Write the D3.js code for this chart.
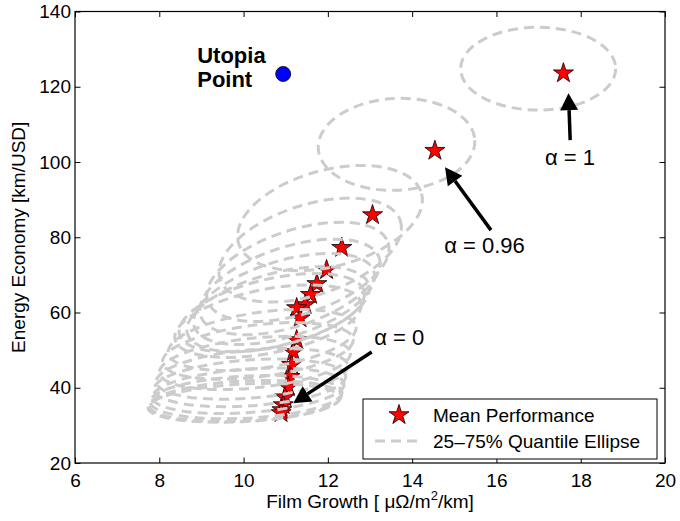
<!DOCTYPE html>
<html>
<head>
<meta charset="utf-8">
<script src="https://cdn.jsdelivr.net/npm/d3@7"></script>
<style>
body { margin: 0; background: #fff; }
text { font-family: "Liberation Sans", Arial, Helvetica, sans-serif; fill: #000; }
</style>
</head>
<body>
<script>
// axis ticks
var xTicks = [6, 8, 10, 12, 14, 16, 18, 20];
var yTicks = [20, 40, 60, 80, 100, 120, 140];

// mean performance (stars), alpha = 1 first, down to alpha = 0
var meanX = [17.59, 14.54, 13.06, 12.33, 11.97, 11.74, 11.59, 11.46, 11.26, 11.34, 11.26, 11.18, 11.14, 11.10, 11.06, 10.98, 10.94, 10.91, 10.89];
var meanY = [123.6, 103.0, 85.9, 77.2, 71.3, 67.6, 64.7, 62.0, 61.2, 58.5, 52.7, 49.5, 46.1, 42.9, 40.2, 37.5, 35.4, 34.1, 33.3];

// 25-75% quantile ellipses (centre, half widths, tilt in degrees)
var ellCx = [16.99, 13.63, 12.05, 11.58, 11.29, 11.10, 10.96, 10.82, 10.67, 10.58, 10.44, 10.34, 10.27, 10.20, 10.15, 10.11, 10.06, 10.04, 10.01];
var ellCy = [124.8, 104.7, 85.1, 76.6, 70.8, 66.8, 63.6, 60.9, 59.9, 57.7, 52.7, 49.8, 46.6, 43.7, 41.3, 39.2, 37.5, 36.5, 36.0];
var ellRx = [1.84, 1.86, 2.25, 2.25, 2.25, 2.23, 2.23, 2.23, 2.25, 2.25, 2.25, 2.28, 2.28, 2.28, 2.28, 2.28, 2.28, 2.28, 2.28];
var ellRy = [11.0, 12.2, 12.8, 12.0, 11.2, 10.6, 10.1, 9.6, 9.0, 8.5, 7.4, 6.9, 6.6, 6.4, 6.1, 5.8, 5.6, 5.3, 5.0];
var ellTilt = [0, 3, 15, 18, 18, 18, 17, 15, 13, 11, 8, 7, 6, 5, 4, 4, 3, 3, 3];

var utopia = [10.94, 123.4];

// alpha labels and arrows: text position, arrow tail, arrow tip
var annLabels = ["\u03b1 = 1", "\u03b1 = 0.96", "\u03b1 = 0"];
var annText = [[17.15, 99.2], [14.76, 75.8], [13.1, 51.4]];
var annTail = [[17.75, 105.8], [15.87, 81.9], [13.04, 49.5]];
var annTip = [[17.71, 118.3], [14.78, 98.6], [11.18, 35.9]];

var W = 680, H = 521;
var margin = {left: 75, top: 11.5, right: 15, bottom: 58};
var iw = W - margin.left - margin.right, ih = H - margin.top - margin.bottom;

var svg = d3.select("body").append("svg")
    .attr("width", W).attr("height", H);

var g = svg.append("g").attr("transform", "translate(" + margin.left + "," + margin.top + ")");

var x = d3.scaleLinear().domain([6, 20]).range([0, iw]);
var y = d3.scaleLinear().domain([20, 140]).range([ih, 0]);

svg.append("defs").append("clipPath").attr("id", "plotclip")
    .append("rect").attr("width", iw).attr("height", ih);

var plot = g.append("g").attr("clip-path", "url(#plotclip)");

var star = d3.symbol().type(d3.symbolStar).size(125);

// stars
plot.selectAll("path.mean")
    .data(d3.range(meanX.length))
    .enter().append("path")
    .attr("class", "mean")
    .attr("d", star)
    .attr("transform", function(i) { return "translate(" + x(meanX[i]) + "," + y(meanY[i]) + ")"; })
    .attr("fill", "#ff0000")
    .attr("stroke", "#000")
    .attr("stroke-width", 0.8);

// ellipses on top
plot.selectAll("ellipse.q")
    .data(d3.range(ellCx.length))
    .enter().append("ellipse")
    .attr("class", "q")
    .attr("transform", function(i) { return "translate(" + x(ellCx[i]) + "," + y(ellCy[i]) + ") rotate(" + (-ellTilt[i]) + ")"; })
    .attr("rx", function(i) { return x(ellCx[i] + ellRx[i]) - x(ellCx[i]); })
    .attr("ry", function(i) { return y(ellCy[i]) - y(ellCy[i] + ellRy[i]); })
    .attr("fill", "none")
    .attr("stroke", "#cccccc")
    .attr("stroke-width", 3)
    .attr("stroke-dasharray", "10,6");

// utopia point
plot.append("circle")
    .attr("cx", x(utopia[0])).attr("cy", y(utopia[1]))
    .attr("r", 7.5)
    .attr("fill", "#0000ff")
    .attr("stroke", "#000")
    .attr("stroke-width", 0.8);

var ut = g.append("text")
    .attr("x", x(8.9)).attr("y", y(126.4))
    .attr("font-size", 22).attr("font-weight", "bold");
ut.append("tspan").attr("x", x(8.9)).text("Utopia");
ut.append("tspan").attr("x", x(8.9)).attr("dy", 24.6).text("Point");

// arrows
annLabels.forEach(function(lab, i) {
    var x0 = x(annTail[i][0]), y0 = y(annTail[i][1]);
    var x1 = x(annTip[i][0]), y1 = y(annTip[i][1]);
    var ang = Math.atan2(y1 - y0, x1 - x0);
    var hl = 17, hw = 9;
    var bx = x1 - hl * Math.cos(ang), by = y1 - hl * Math.sin(ang);
    g.append("line")
        .attr("x1", x0).attr("y1", y0).attr("x2", bx).attr("y2", by)
        .attr("stroke", "#000").attr("stroke-width", 3.5);
    var px = -Math.sin(ang) * hw, py = Math.cos(ang) * hw;
    g.append("path")
        .attr("d", "M" + x1 + "," + y1 + "L" + (bx + px) + "," + (by + py) + "L" + (bx - px) + "," + (by - py) + "Z")
        .attr("fill", "#000");
    g.append("text")
        .attr("x", x(annText[i][0])).attr("y", y(annText[i][1]))
        .attr("font-size", 22)
        .text(lab);
});

// axes, ticks pointing inwards on all sides
var fs = 19;
var xAx = g.append("g").attr("transform", "translate(0," + ih + ")")
    .call(d3.axisBottom(x).tickValues(xTicks).tickSizeInner(-5.5).tickSizeOuter(0).tickPadding(11));
var xTop = g.append("g")
    .call(d3.axisTop(x).tickValues(xTicks).tickSizeInner(-5.5).tickSizeOuter(0).tickFormat(""));
var yAx = g.append("g")
    .call(d3.axisLeft(y).tickValues(yTicks).tickSizeInner(-5.5).tickSizeOuter(0).tickPadding(4));
var yRight = g.append("g").attr("transform", "translate(" + iw + ",0)")
    .call(d3.axisRight(y).tickValues(yTicks).tickSizeInner(-5.5).tickSizeOuter(0).tickFormat(""));

[xAx, xTop, yAx, yRight].forEach(function(a) {
    a.select(".domain").remove();
    a.selectAll(".tick line").attr("stroke", "#000").attr("stroke-width", 1);
    a.selectAll("text").attr("font-size", fs).attr("font-family", null).attr("fill", "#000");
});

g.append("rect")
    .attr("width", iw).attr("height", ih)
    .attr("fill", "none").attr("stroke", "#000").attr("stroke-width", 1.2);

// legend
var lg = svg.append("g").attr("transform", "translate(363,399)");
lg.append("rect").attr("width", 294).attr("height", 60)
    .attr("fill", "#fff").attr("stroke", "#000").attr("stroke-width", 1);
lg.append("path").attr("d", star)
    .attr("transform", "translate(36,16)")
    .attr("fill", "#ff0000").attr("stroke", "#000").attr("stroke-width", 0.8);
lg.append("line").attr("x1", 12).attr("x2", 60).attr("y1", 42).attr("y2", 42)
    .attr("stroke", "#cccccc").attr("stroke-width", 3).attr("stroke-dasharray", "10,6");
lg.append("text").attr("x", 70).attr("y", 23).attr("font-size", fs).text("Mean Performance");
lg.append("text").attr("x", 70).attr("y", 49).attr("font-size", fs).text("25\u201375% Quantile Ellipse");

// axis labels
var xl = svg.append("text")
    .attr("x", margin.left + iw / 2).attr("y", 508)
    .attr("text-anchor", "middle").attr("font-size", fs);
xl.append("tspan").text("Film Growth [ \u03bc\u03a9/m");
xl.append("tspan").attr("font-size", 13).attr("dy", -8).text("2");
xl.append("tspan").attr("dy", 8).text("/km]");

svg.append("text")
    .attr("transform", "translate(25," + (margin.top + ih / 2) + ") rotate(-90)")
    .attr("text-anchor", "middle").attr("font-size", fs)
    .text("Energy Economy [km/USD]");
</script>
</body>
</html>
